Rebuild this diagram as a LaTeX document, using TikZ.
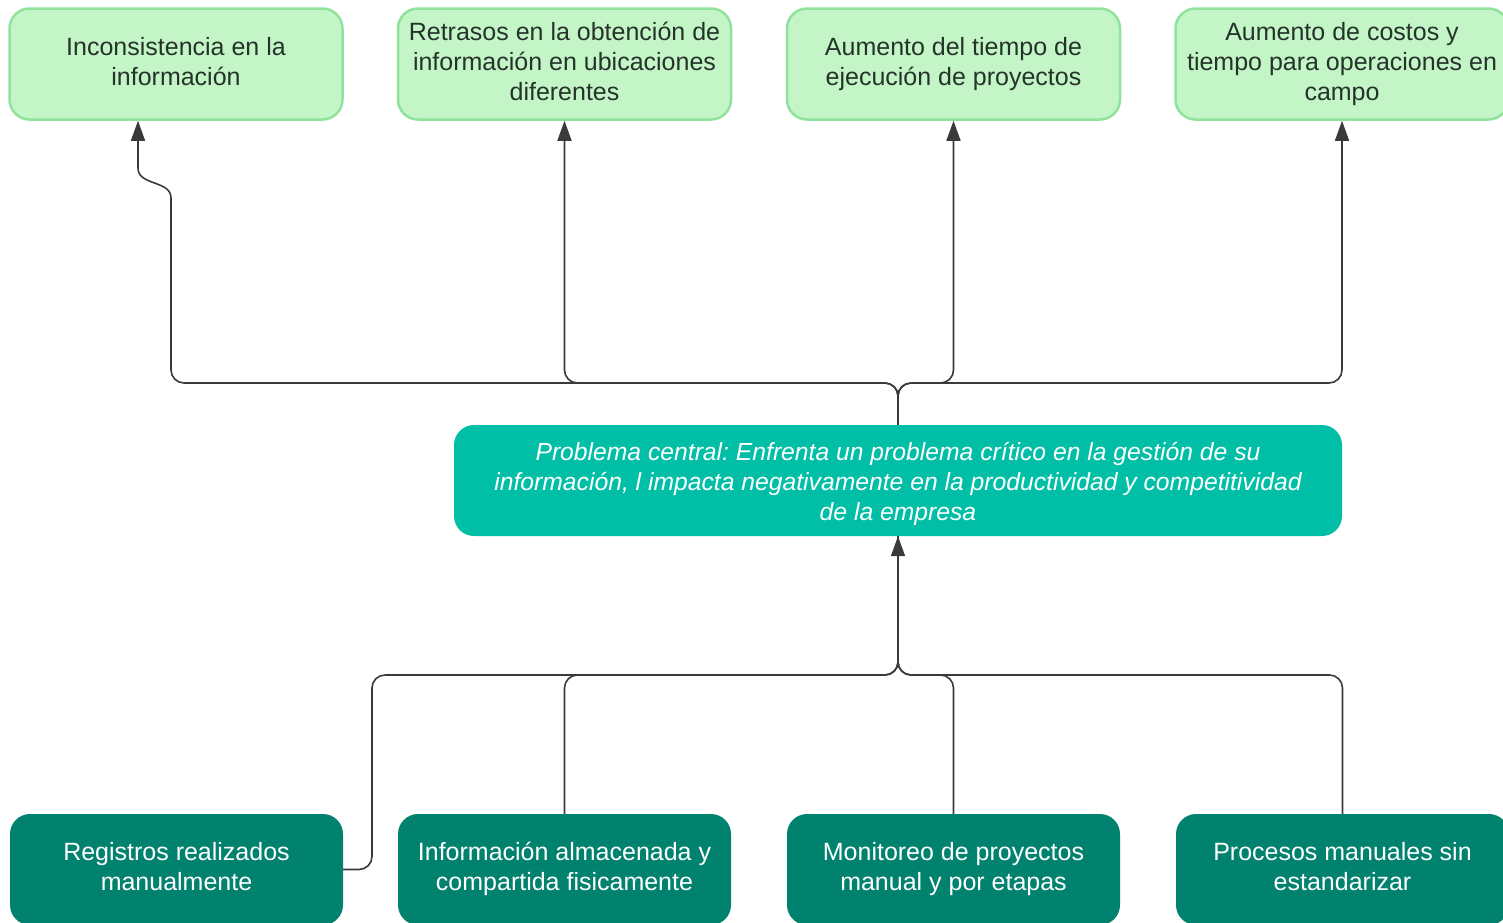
\documentclass[tikz,border=0pt]{standalone}
\usepackage{fontspec}
\setmainfont{Liberation Sans}
\usetikzlibrary{arrows.meta,calc}
\frenchspacing
\definecolor{gfill}{HTML}{C3F5C6}
\definecolor{gdraw}{HTML}{8FE39B}
\definecolor{gtext}{HTML}{25332B}
\definecolor{cfill}{HTML}{00BFA6}
\definecolor{bfill}{HTML}{00826E}
\definecolor{lcol}{HTML}{3A3A3A}
\tikzset{
  txtfont/.style={font=\fontsize{25pt}{30pt}\selectfont},
  effbox/.style={rectangle, rounded corners=20pt, fill=gfill, draw=gdraw, line width=2.5pt,
    minimum width=333pt, minimum height=111pt, text=gtext, align=center, txtfont},
  cenbox/.style={rectangle, rounded corners=20pt, fill=cfill, draw=none,
    minimum width=888pt, minimum height=111pt},
  centxt/.style={text=white, align=center, font=\fontsize{24.7pt}{30pt}\selectfont\itshape},
  causebox/.style={rectangle, rounded corners=20pt, fill=bfill, draw=none,
    minimum width=333pt, minimum height=111pt, text=white, align=center, txtfont},
  conn/.style={draw=lcol, line width=1.6pt, rounded corners=13pt},
  curv/.style={draw=lcol, line width=1.6pt},
  arr/.style={-{Triangle[length=20pt,width=14pt]}},
}
\begin{document}
\begin{tikzpicture}[x=1pt,y=-1pt]
\useasboundingbox (0,0) rectangle (1503,922);
\node[effbox] (t1) at (176,64) {\strut Inconsistencia en la\\información\strut};
\node[effbox] (t2) at (564.5,64) {\strut Retrasos en la obtención de\\información en ubicaciones\\diferentes\strut};
\node[effbox] (t3) at (953.5,64) {\strut Aumento del tiempo de\\ejecución de proyectos\strut};
\node[effbox] (t4) at (1342,64) {\strut Aumento de costos y\\tiempo para operaciones en\\campo\strut};
\node[cenbox] (c) at (898,480.5) {};
\node[centxt] (ctext) at (898,484.5) {\strut Problema central: Enfrenta un problema crítico en la gestión de su\\información, l impacta negativamente en la productividad y competitividad\\de la empresa\strut};
\node[causebox] (b1) at (176.5,869.5) {\strut Registros realizados\\manualmente\strut};
\node[causebox] (b2) at (564.5,869.5) {\strut Información almacenada y\\compartida fisicamente\strut};
\node[causebox] (b3) at (953.5,869.5) {\strut Monitoreo de proyectos\\manual y por etapas\strut};
\node[causebox] (b4) at (1342.5,869.5) {\strut Procesos manuales sin\\estandarizar\strut};
% top connectors
\coordinate (ts) at (c.north |- 0,383);
\coordinate (t1in) at (t1.south -| 138,0);
\coordinate (s1) at (171,198);
\coordinate (s2) at (138,168);
\draw[conn] (c.north) -- (ts) -| (s1);
\draw[curv,arr] (s1) .. controls (171,180) and (138,186) .. (s2) -- (t1in);
\draw[conn,arr] (c.north) -- (ts) -| (t2.south);
\draw[conn,arr] (c.north) -- (ts) -| (t3.south);
\draw[conn,arr] (c.north) -- (ts) -| (t4.south);
% bottom connectors
\coordinate (bs) at (c.south |- 0,675);
\draw[conn] (b1.east) -- (372,869.5) -- (372,675) -- (bs) -- (c.south);
\draw[conn] (b2.north) |- (bs) -- (c.south);
\draw[conn] (b3.north) |- (bs) -- (c.south);
\draw[conn,arr] (b4.north) |- (bs) -- (c.south);
\end{tikzpicture}
\end{document}
